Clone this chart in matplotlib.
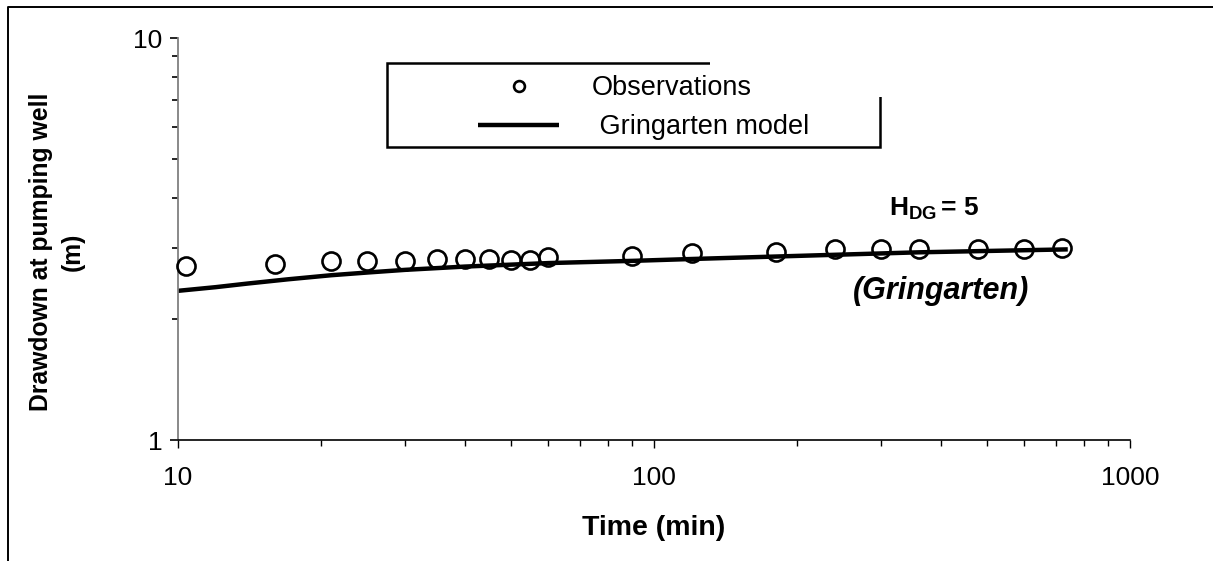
import matplotlib
matplotlib.use("Agg")
import matplotlib.pyplot as plt
from matplotlib.lines import Line2D
from matplotlib.patches import Rectangle
from matplotlib.ticker import LogLocator, NullFormatter, FixedFormatter, FixedLocator

plt.rcParams.update({
    "font.family": ["Liberation Sans", "DejaVu Sans"],
    "mathtext.fontset": "custom",
    "mathtext.rm": "Liberation Sans",
    "mathtext.bf": "Liberation Sans:bold",
    "mathtext.it": "Liberation Sans:italic",
})

# observed drawdown at the pumping well
obs_time = [10.4, 16, 21, 25, 30, 35, 40, 45, 50, 55, 60, 90, 120, 180, 240, 300, 360, 480, 600, 720]
obs_drawdown = [2.71, 2.74, 2.78, 2.78, 2.78, 2.82, 2.82, 2.82, 2.80, 2.80, 2.86, 2.87, 2.92, 2.94,
                2.99, 2.99, 2.99, 2.99, 2.99, 3.00]

# Gringarten model curve
model_time = [10, 12, 14, 17, 21, 25, 30, 40, 60, 90, 120, 180, 360, 740]
model_drawdown = [2.35, 2.40, 2.45, 2.51, 2.57, 2.61, 2.65, 2.70, 2.755, 2.79, 2.82, 2.86, 2.93, 2.98]

W, H = 1213, 561
fig = plt.figure(figsize=(W / 100, H / 100), dpi=100)
ax = fig.add_axes([178 / W, 1 - 440 / H, (1130 - 178) / W, 402 / H])

ax.plot(model_time, model_drawdown, color="black", lw=3.2, solid_capstyle="butt",
        solid_joinstyle="round", label=" Gringarten model", zorder=2)
ax.plot(obs_time, obs_drawdown, "o", ms=13, mfc="none", mec="black", mew=1.9,
        label="Observations", zorder=3, clip_on=False)

ax.set_xscale("log")
ax.set_yscale("log")
ax.set_xlim(10, 1000)
ax.set_ylim(1, 10)

ax.xaxis.set_major_locator(FixedLocator([10, 100, 1000]))
ax.xaxis.set_major_formatter(FixedFormatter(["10", "100", "1000"]))
ax.xaxis.set_minor_locator(LogLocator(base=10, subs=range(2, 10)))
ax.xaxis.set_minor_formatter(NullFormatter())
ax.yaxis.set_major_locator(FixedLocator([1, 10]))
ax.yaxis.set_major_formatter(FixedFormatter(["1", "10"]))
ax.yaxis.set_minor_locator(LogLocator(base=10, subs=range(2, 10)))
ax.yaxis.set_minor_formatter(NullFormatter())

ax.spines["top"].set_visible(False)
ax.spines["right"].set_visible(False)
ax.spines["left"].set_color("#808080")
ax.spines["left"].set_linewidth(1.3)
ax.spines["bottom"].set_linewidth(1.2)
ax.tick_params(axis="x", which="major", direction="out", length=6, width=1, labelsize=19, pad=13)
ax.tick_params(axis="x", which="minor", direction="out", length=4, width=1)
ax.tick_params(axis="y", which="major", direction="out", length=6, width=1.2, labelsize=19, pad=5)
ax.tick_params(axis="y", which="minor", direction="out", length=4, width=1.2)

ax.set_xlabel("Time (min)", fontsize=20.5, fontweight="bold")
ax.xaxis.set_label_coords((654 - 178) / (1130 - 178), (440 - 528) / 402)
ax.xaxis.label.set_va("center")
fig.text(57 / W, 1 - 252 / H, "Drawdown at pumping well\n(m)", rotation=90,
         ha="center", va="center", multialignment="center", fontsize=17.8,
         fontweight="bold", linespacing=1.4)

# annotations
ax.text(312, 3.61, r"$\mathbf{H}_{\mathbf{DG}}\,$= 5", fontsize=19, fontweight="bold",
        ha="left", va="baseline")
ax.text(401, 2.35, "(Gringarten)", fontsize=22, fontweight="bold", style="italic",
        ha="center", va="center")

# legend frame (partly covered, as in the original sheet)
frame = Rectangle((387 / W, 1 - 147 / H), (880 - 387) / W, 84 / H, transform=fig.transFigure,
                  fill=False, ec="black", lw=1.8, zorder=4, clip_on=False)
ax.add_patch(frame)
cover = Rectangle((710 / W, 1 - 97 / H), (888 - 710) / W, 40 / H, transform=fig.transFigure,
                  fc="white", ec="none", zorder=4.5, clip_on=False)
ax.add_patch(cover)
handles, labels = ax.get_legend_handles_labels()
leg = ax.legend(handles[::-1], labels[::-1], loc="upper left",
                bbox_to_anchor=(478 / W, 1 - 75 / H), bbox_transform=fig.transFigure,
                frameon=False, fontsize=19.5, handlelength=3.0, handletextpad=1.2,
                labelspacing=0.48, borderpad=0, borderaxespad=0, markerscale=0.6)
leg.set_zorder(6)

# outer border of the original sheet (top and left visible)
fig.add_artist(Line2D([8 / W, 8 / W, 1], [0, 1 - 7 / H, 1 - 7 / H], color="black", lw=1.4))

fig.savefig("out.png", dpi=100)
